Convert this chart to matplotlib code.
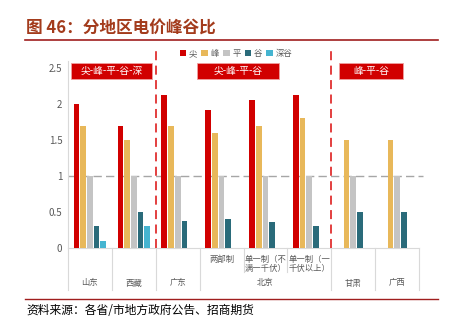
import numpy as np
import matplotlib
matplotlib.use('Agg')
import matplotlib.pyplot as plt
from matplotlib.lines import Line2D
from matplotlib.patches import Rectangle, Patch

plt.rcParams['font.family'] = ['Noto Sans CJK SC', 'DejaVu Sans']

# data
categories = ['山东', '西藏', '广东', '两部制', '单一制（不\n满一千伏）', '单一制（一\n千伏以上）', '甘肃', '广西']
groups = ['山东', '西藏', '广东', '北京', '甘肃', '广西']
series_names = ['尖', '峰', '平', '谷', '深谷']
jian = [2.0, 1.7, 2.125, 1.92, 2.05, 2.13, np.nan, np.nan]
feng = [1.7, 1.5, 1.7, 1.6, 1.7, 1.8, 1.5, 1.5]
ping = [1.0, 1.0, 1.0, 1.0, 1.0, 1.0, 1.0, 1.0]
gu = [0.3, 0.5, 0.38, 0.4, 0.36, 0.3, 0.5, 0.5]
shengu = [0.1, 0.3, np.nan, np.nan, np.nan, np.nan, np.nan, np.nan]
box_labels = ['尖-峰-平-谷-深', '尖-峰-平-谷', '峰-平-谷']

colors = ['#D10000', '#E8B85A', '#C4C4C4', '#2A6B7A', '#45B4D0']

W, H = 453, 324
fig = plt.figure(figsize=(W / 100, H / 100), dpi=100)

def px(x, y):
    return x / W, 1 - y / H

# axes: x 68..419 px, y 248 (0) .. 60.8 (2.6)
ax = fig.add_axes([68 / W, (H - 248) / H, 351 / W, 187.2 / H])
ax.set_xlim(-0.5, 7.5)
ax.set_ylim(0, 2.6)

x = np.arange(len(categories))
step = 0.152
bw = 0.13
for i, (vals, c) in enumerate(zip([jian, feng, ping, gu, shengu], colors)):
    ax.bar(x + (i - 2) * step, vals, width=bw, color=c, label=series_names[i], zorder=3)

ax.axhline(1, xmin=0, xmax=1.01, color='#A6A6A6', ls=(0, (6, 3)), lw=1, clip_on=False, zorder=2)

# red dashed separators
for xv in [1.5, 5.5]:
    ax.plot([xv, xv], [0, 2.8], color='#E03030', ls=(0, (5, 3)), lw=1.3, clip_on=False, zorder=4)

# red label boxes
boxes = [(-0.44, 1.42), (2.45, 4.31), (5.67, 7.14)]
for (x0, x1), lab in zip(boxes, box_labels):
    ax.add_patch(Rectangle((x0, 2.354), x1 - x0, 0.222, facecolor='#D10000',
                           edgecolor='#F0A0A0', lw=0.6, clip_on=False, zorder=5))
    ax.text((x0 + x1) / 2, 2.465, lab, color='white', fontsize=7, ha='center',
            va='center', zorder=6)

ax.set_yticks([0, 0.5, 1, 1.5, 2, 2.5])
ax.set_yticklabels(['0', '0.5', '1', '1.5', '2', '2.5'])
ax.tick_params(axis='y', length=0, labelsize=7, labelcolor='#595959', pad=4)
ax.tick_params(axis='x', length=0, labelbottom=False)
for s in ['top', 'right']:
    ax.spines[s].set_visible(False)
ax.spines['left'].set_color('#D9D9D9')
ax.spines['bottom'].set_color('#D9D9D9')

# two-level category axis
sep_col = '#D9D9D9'
full_lines = [-0.5, 0.5, 1.5, 2.5, 5.5, 6.5, 7.5]
inner_lines = [3.5, 4.5]
for xv in full_lines:
    ax.plot([xv, xv], [0, -0.583], color=sep_col, lw=0.8, clip_on=False)
for xv in inner_lines:
    ax.plot([xv, xv], [0, -0.333], color=sep_col, lw=0.8, clip_on=False)
for i in [3, 4, 5]:
    ax.text(i, -0.095, categories[i], fontsize=6, color='#595959', ha='center',
            va='top', linespacing=1.05)
group_x = [0, 1, 2, 4, 6, 7]
for gx, g in zip(group_x, groups):
    ax.text(gx, -0.486, g, fontsize=6, color='#595959', ha='center', va='center')

# legend
handles = [Patch(facecolor=c, edgecolor='none') for c in colors]
fig.legend(handles, series_names, loc='center', bbox_to_anchor=px(236, 53.5), ncol=5,
           frameon=False, fontsize=6, handlelength=0.8, handleheight=0.8,
           columnspacing=0.5, handletextpad=0.3, labelcolor='#595959')

# title and source
fig.text(*px(26, 29), '图 46：分地区电价峰谷比', fontsize=12, fontweight='bold',
         color='#A33B1C', ha='left', va='center')
fig.add_artist(Line2D([25 / W, 438 / W], [1 - 40 / H] * 2, color='#A01E1E', lw=1.2))
fig.add_artist(Line2D([25 / W, 438 / W], [1 - 299 / H] * 2, color='#A01E1E', lw=1.0))
fig.text(*px(26, 311), '资料来源：各省/市地方政府公告、招商期货', fontsize=8.5,
         color='black', ha='left', va='center')

fig.savefig('out.png', dpi=100)
